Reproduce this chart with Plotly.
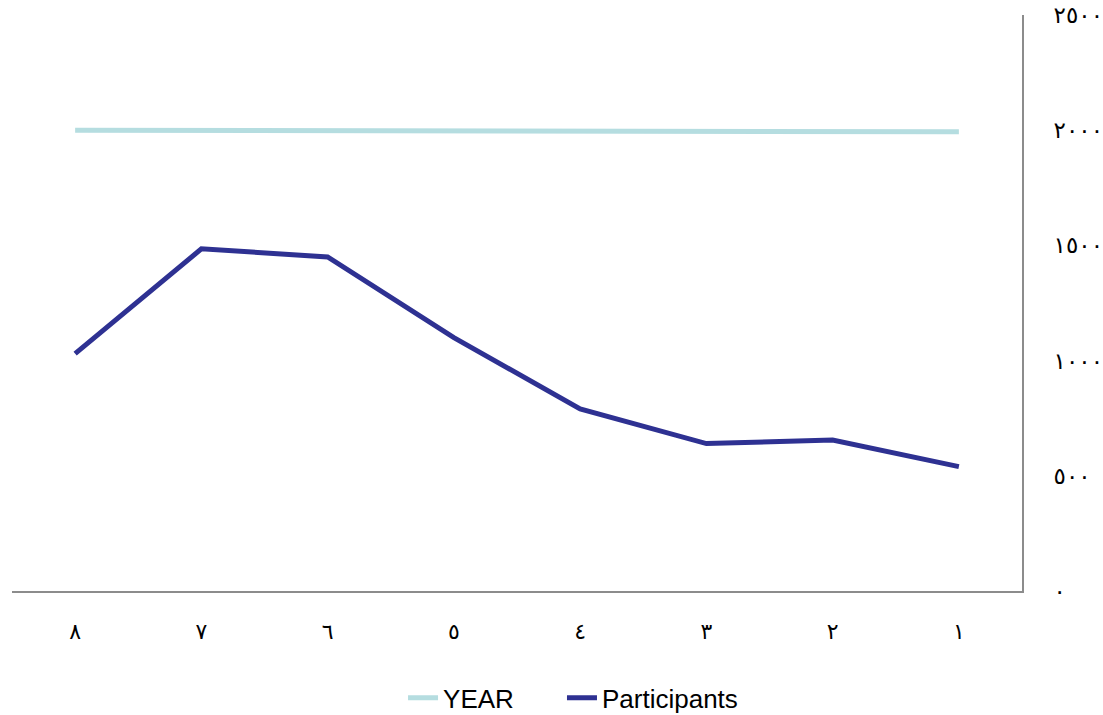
import plotly.graph_objects as go

categories = ["١", "٢", "٣", "٤", "٥", "٦", "٧", "٨"]
year_values = [1993, 1994, 1995, 1996, 1997, 1998, 1999, 2000]
participants = [540, 655, 640, 790, 1100, 1450, 1485, 1030]
y_tickvals = [0, 500, 1000, 1500, 2000, 2500]
y_ticktext = ["٠", "٥٠٠", "١٠٠٠", "١٥٠٠", "٢٠٠٠", "٢٥٠٠"]

fig = go.Figure()
fig.add_trace(go.Scatter(x=categories, y=year_values, mode="lines", name="YEAR",
                         line=dict(color="#b5dde0", width=5), legend="legend"))
fig.add_trace(go.Scatter(x=categories, y=participants, mode="lines", name="Participants",
                         line=dict(color="#2e3192", width=5), legend="legend2"))

font_family = "Liberation Sans, Arial, DejaVu Sans, sans-serif"
legend_common = dict(orientation="h", xref="container", yref="container",
                     xanchor="left", y=0.024, yanchor="middle",
                     font=dict(size=26, family=font_family))
fig.update_layout(
    width=1103, height=715,
    margin=dict(l=12, r=81, t=15, b=124, autoexpand=False),
    paper_bgcolor="white", plot_bgcolor="white",
    font=dict(family=font_family, color="black"),
    showlegend=True,
    legend=dict(x=0.3654, **legend_common),
    legend2=dict(x=0.5095, **legend_common),
    xaxis=dict(type="category", range=[7.5, -0.5], showgrid=False,
               showline=True, linecolor="#8c8c8c", linewidth=2,
               ticks="", ticklabelstandoff=20, tickfont=dict(size=22),
               zeroline=False, automargin=False),
    yaxis=dict(range=[0, 2500], side="right", showgrid=False, zeroline=False,
               showline=True, linecolor="#8c8c8c", linewidth=2,
               tickvals=y_tickvals, ticktext=y_ticktext, ticks="",
               ticklabelstandoff=25, tickfont=dict(size=23), automargin=False),
)

fig.write_html("out.html", config={"displayModeBar": False},
               post_script="document.body.style.margin='0';document.body.style.overflow='hidden';")
